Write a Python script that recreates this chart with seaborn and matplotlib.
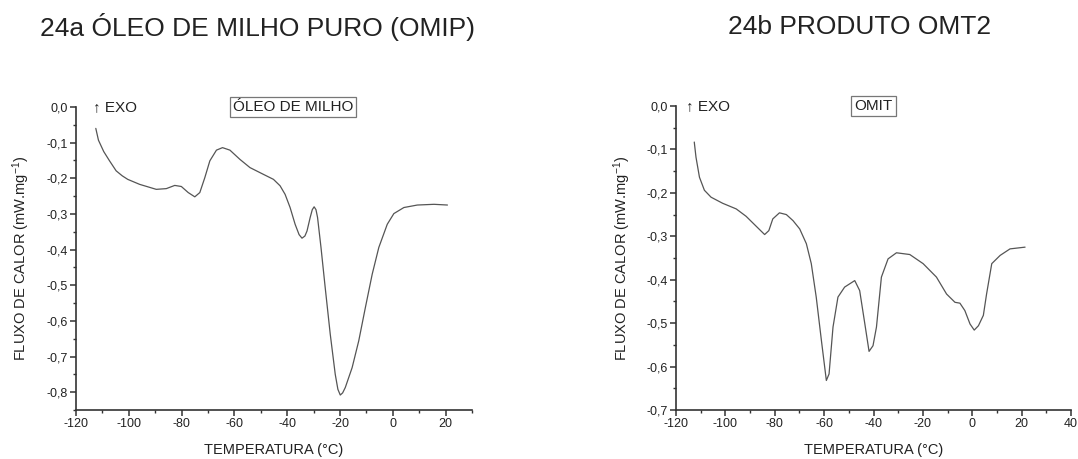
import numpy as np
import pandas as pd
import matplotlib
matplotlib.use("Agg")
import matplotlib.pyplot as plt
import seaborn as sns
from matplotlib.ticker import MultipleLocator, FuncFormatter

# ---- data ----
temp_a = [-112.5, -111.5, -109.5, -107.3, -104.8, -102.5, -100.4, -95.9, -89.6, -85.8, -82.6, -80.1,
          -77.5, -75.0, -73.1, -71.2, -69.3, -66.8, -64.5, -61.7, -57.9, -54.1,
          -49.0, -45.2, -42.7, -40.8, -38.9, -37.0, -35.5, -34.4, -33.3, -32.5, -31.3, -30.5, -29.8,
          -29.1, -28.5, -27.2, -25.6, -23.7, -21.8, -20.8, -19.9, -19.0, -18.0, -15.4, -12.9, -10.4,
          -7.8, -5.3, -2.1, 0.4, 4.2, 9.3, 15.6, 20.7]
flux_a = [-0.060, -0.093, -0.125, -0.151, -0.179, -0.193, -0.203, -0.217, -0.231, -0.229, -0.220, -0.223,
          -0.240, -0.252, -0.240, -0.198, -0.151, -0.121, -0.114, -0.121, -0.147, -0.170,
          -0.189, -0.203, -0.221, -0.245, -0.282, -0.329, -0.358, -0.368, -0.362, -0.348, -0.310, -0.288, -0.280,
          -0.288, -0.310, -0.394, -0.507, -0.637, -0.750, -0.792, -0.808, -0.802, -0.787, -0.731, -0.656, -0.563,
          -0.469, -0.394, -0.329, -0.299, -0.282, -0.275, -0.273, -0.275]

temp_b = [-112.6, -111.9, -110.5, -108.5, -105.8, -101.1, -95.6, -91.6, -87.5, -84.1,
          -82.4, -80.8, -78.1, -75.3, -72.6, -69.9, -67.2, -65.2, -63.2, -61.1,
          -59.1, -58.0, -56.4, -54.4, -51.7, -47.6, -45.6, -43.5, -41.8, -40.2,
          -38.8, -36.8, -34.1, -30.7, -25.3, -19.9, -14.5, -10.4, -7.0, -5.0,
          -3.0, -0.9, 0.8, 2.5, 4.5, 5.8, 7.9, 11.3, 15.3, 21.4]
flux_b = [-0.083, -0.118, -0.164, -0.194, -0.210, -0.224, -0.237, -0.254, -0.277, -0.296,
          -0.287, -0.260, -0.246, -0.250, -0.264, -0.283, -0.317, -0.363, -0.440, -0.540,
          -0.632, -0.617, -0.509, -0.440, -0.417, -0.402, -0.425, -0.502, -0.565, -0.552,
          -0.509, -0.394, -0.352, -0.338, -0.342, -0.363, -0.394, -0.433, -0.452, -0.454,
          -0.471, -0.502, -0.516, -0.506, -0.482, -0.433, -0.363, -0.344, -0.329, -0.325]

titles = ["24a ÓLEO DE MILHO PURO (OMIP)", "24b PRODUTO OMT2"]
box_labels = ["ÓLEO DE MILHO", "OMIT"]
xlabel = "TEMPERATURA (°C)"
ylabel = "FLUXO DE CALOR (mW.mg$^{-1}$)"

sns.set_theme(style="ticks")
plt.rcParams["font.family"] = ["Liberation Sans", "DejaVu Sans"]
plt.rcParams["mathtext.fontset"] = "custom"
plt.rcParams["mathtext.rm"] = "Liberation Sans"
plt.rcParams["mathtext.it"] = "Liberation Sans:italic"
plt.rcParams["mathtext.bf"] = "Liberation Sans:bold"

W, H = 1078, 459
fig = plt.figure(figsize=(W / 100, H / 100), dpi=100)
fig.patch.set_facecolor("white")

def px_axes(x0, x1, ytop, ybot):
    return fig.add_axes([x0 / W, 1 - ybot / H, (x1 - x0) / W, (ybot - ytop) / H])

ax_a = px_axes(76, 472, 107, 410)
ax_b = px_axes(676, 1071, 106, 410)

panels = [
    (ax_a, temp_a, flux_a, (-120, 30), (-0.85, 0.0), 0.043, 0.548),
    (ax_b, temp_b, flux_b, (-120, 40), (-0.70, 0.0), 0.025, 0.50),
]

dark = "#333333"
for i, (ax, t, f, xl, yl, exo_x, box_x) in enumerate(panels):
    df = pd.DataFrame({"T": t, "F": f})
    sns.lineplot(data=df, x="T", y="F", ax=ax, sort=False, estimator=None,
                 color="#555555", linewidth=0.9)
    ax.set_xlim(*xl)
    ax.set_ylim(*yl)
    ax.xaxis.set_major_locator(MultipleLocator(20))
    ax.xaxis.set_minor_locator(MultipleLocator(10))
    ax.yaxis.set_major_locator(MultipleLocator(0.1))
    ax.yaxis.set_minor_locator(MultipleLocator(0.05))
    ax.xaxis.set_major_formatter(FuncFormatter(lambda v, p: f"{int(round(v))}"))
    ax.yaxis.set_major_formatter(FuncFormatter(lambda v, p: f"{v:.1f}".replace(".", ",").replace("-0,0", "0,0")))
    sns.despine(ax=ax)
    for s in ("left", "bottom"):
        ax.spines[s].set_color(dark)
        ax.spines[s].set_linewidth(1.2)
    ax.tick_params(which="major", direction="out", length=4, width=1.1, color=dark,
                   labelsize=9, labelcolor="#222222", pad=2)
    ax.tick_params(which="minor", direction="out", length=2.5, width=1.0, color=dark)
    ax.set_xlabel(xlabel, fontsize=10.5, color="#222222")
    ax.set_ylabel(ylabel, fontsize=10.5, color="#222222")
    ax.xaxis.set_label_coords(0.5, -0.108)
    ax.yaxis.set_label_coords(-0.11, 0.5)
    ax.grid(False)
    ax.set_facecolor("white")
    ax.text(exo_x, 1.0, "↑ EXO", transform=ax.transAxes, fontsize=11,
            ha="left", va="center", color="#222222", family=["Liberation Sans", "DejaVu Sans"])
    ax.text(box_x, 1.0, box_labels[i], transform=ax.transAxes, fontsize=11,
            ha="center", va="center", color="#222222", clip_on=False,
            bbox=dict(boxstyle="square,pad=0.2", facecolor="white", edgecolor="#777777", linewidth=0.9))

fig.text(258 / W, 1 - 27 / H, titles[0], fontsize=19, ha="center", va="center", color="#222222")
fig.text(860 / W, 1 - 27 / H, titles[1], fontsize=19, ha="center", va="center", color="#222222")

fig.savefig("out.png", dpi=100, facecolor="white")
